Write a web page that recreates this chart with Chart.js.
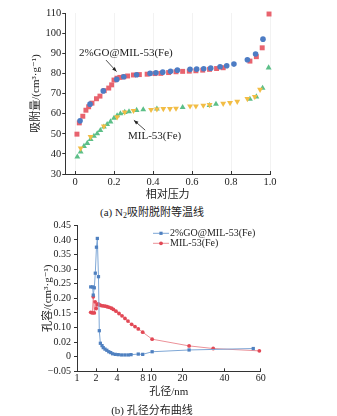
<!DOCTYPE html>
<html>
<head>
<meta charset="utf-8">
<script src="https://cdn.jsdelivr.net/npm/chart.js@4.4.1/dist/chart.umd.min.js"></script>
<style>
	body { margin: 0; background: #fff; }
	#page { position: relative; width: 337px; height: 416px; overflow: hidden; font-family: "Liberation Serif", "Noto Sans CJK SC", serif; color: #222; }
	.box { position: absolute; left: 0; width: 337px; }
	.caption { position: absolute; left: 0; width: 304px; text-align: center; font-size: 11px; line-height: 14px; }
	.caption span { font-size: 8px; line-height: 0; vertical-align: -2px; }
</style>
</head>
<body>
<div id="page">
	<div class="box" style="top:0;height:205px"><canvas id="chart-isotherm"></canvas></div>
	<div class="caption" style="top:205px">(a) N<span>2</span>吸附脱附等温线</div>
	<div class="box" style="top:216px;height:200px"><canvas id="chart-pore"></canvas></div>
	<div class="caption" style="top:403px">(b) 孔径分布曲线</div>
</div>
<script>
var goName = "2%GO@MIL-53(Fe)";
var milName = "MIL-53(Fe)";

// N2 isotherms, relative pressure vs adsorbed volume
var goAdsP = [0.01, 0.022, 0.04, 0.056, 0.07, 0.087, 0.11, 0.128, 0.15, 0.173, 0.188, 0.2, 0.215, 0.23, 0.25, 0.27, 0.3, 0.33, 0.37, 0.41, 0.44, 0.48, 0.518, 0.552, 0.586, 0.62, 0.655, 0.69, 0.726, 0.76, 0.897, 0.93, 0.96, 0.995];
var goAdsV = [49.8, 55.4, 58.7, 61.7, 63.4, 65.2, 67.4, 68.7, 71.4, 72.7, 74.3, 76.7, 77.6, 78.0, 78.3, 78.7, 79.2, 79.4, 79.6, 79.9, 80.0, 80.4, 80.8, 81.0, 81.1, 81.3, 81.6, 82.0, 82.4, 82.8, 86.1, 88.3, 92.7, 109.5];
var goDesP = [0.026, 0.077, 0.145, 0.214, 0.25, 0.316, 0.385, 0.415, 0.45, 0.49, 0.525, 0.59, 0.624, 0.66, 0.696, 0.744, 0.778, 0.815, 0.884, 0.926, 0.964];
var goDesV = [56.4, 64.7, 71.3, 77.0, 78.3, 79.3, 80.0, 80.3, 80.6, 81.0, 81.6, 82.0, 82.1, 82.3, 82.6, 83.3, 83.8, 84.6, 86.8, 89.6, 97.0];
var milAdsP = [0.012, 0.029, 0.046, 0.063, 0.08, 0.097, 0.114, 0.13, 0.148, 0.165, 0.182, 0.2, 0.216, 0.233, 0.255, 0.277, 0.316, 0.35, 0.42, 0.552, 0.69, 0.723, 0.897, 0.93, 0.962, 0.993];
var milAdsV = [38.5, 41.0, 43.8, 45.3, 47.2, 48.8, 50.1, 51.7, 53.4, 54.7, 56.0, 57.8, 59.0, 60.0, 60.7, 61.0, 61.7, 62.0, 62.4, 63.1, 64.1, 64.7, 67.2, 68.4, 72.7, 82.8];
var milDesP = [0.029, 0.08, 0.148, 0.216, 0.255, 0.3, 0.39, 0.42, 0.453, 0.487, 0.518, 0.59, 0.62, 0.658, 0.69, 0.76, 0.795, 0.832, 0.884, 0.922, 0.949];
var milDesV = [42.8, 48.5, 53.7, 58.3, 60.7, 61.5, 62.0, 62.2, 62.4, 62.4, 62.6, 63.7, 63.7, 64.1, 64.4, 65.0, 65.4, 66.0, 67.4, 68.4, 72.0];
var isoTicksX = [0, 0.2, 0.4, 0.6, 0.8, 1.0];
var isoTickLabelsX = ["0", "0.2", "0.4", "0.6", "0.8", "1.0"];

// pore size distribution, pore diameter (nm) vs pore volume
var goPoreD = [1.65, 1.77, 1.81, 1.88, 1.95, 2.03, 2.09, 2.17, 2.23, 2.31, 2.44, 2.54, 2.69, 2.86, 3.05, 3.25, 3.46, 3.78, 4.14, 4.54, 4.96, 5.42, 5.84, 7.1, 8, 10.1, 22.3, 55.2];
var goPoreV = [0.239, 0.239, 0.211, 0.236, 0.286, 0.375, 0.405, 0.274, 0.089, 0.046, 0.038, 0.031, 0.026, 0.022, 0.017, 0.014, 0.010, 0.008, 0.007, 0.006, 0.006, 0.006, 0.007, 0.009, 0.008, 0.017, 0.023, 0.028];
var milPoreD = [1.65, 1.75, 1.81, 1.88, 1.94, 2.01, 2.09, 2.16, 2.26, 2.38, 2.54, 2.72, 2.9, 3.1, 3.34, 3.56, 3.87, 4.22, 4.58, 4.96, 5.38, 5.94, 6.5, 7.1, 8, 10.1, 22.3, 33.2, 59.1];
var milPoreV = [0.152, 0.150, 0.205, 0.150, 0.188, 0.165, 0.178, 0.181, 0.177, 0.175, 0.174, 0.173, 0.171, 0.169, 0.166, 0.162, 0.156, 0.148, 0.140, 0.131, 0.122, 0.111, 0.103, 0.095, 0.084, 0.060, 0.037, 0.028, 0.020];
var poreTicks = [1, 2, 4, 8, 10, 20, 40, 60];
var volTicks = [-0.05, 0, 0.05, 0.10, 0.15, 0.20, 0.25, 0.30, 0.35, 0.40, 0.45];
var volTickLabels = ["\u22120.05", "0", "0.02", "0.10", "0.15", "0.20", "0.25", "0.30", "0.35", "0.40", "0.45"];

// the pore axis is stretched unevenly between its labelled sizes
var poreAxisStops = [0, 19, 40, 65.7, 74.7, 105.5, 147.5, 183.7];

var serif = "'Liberation Serif', 'DejaVu Serif', 'Noto Sans CJK SC', serif";
Chart.defaults.font.family = serif;
Chart.defaults.color = "#222";

function poreAxis(d)
{
	for (var i = 0; i < poreTicks.length - 1; i++)
	{
		if (d <= poreTicks[i + 1] || i == poreTicks.length - 2)
		{
			var t = Math.log(d / poreTicks[i]) / Math.log(poreTicks[i + 1] / poreTicks[i]);
			return poreAxisStops[i] + t * (poreAxisStops[i + 1] - poreAxisStops[i]);
		}
	}
}

function toPoints(xs, ys, mapX)
{
	return xs.map(function(x, i)
	{
		return { x: mapX ? mapX(x) : x, y: ys[i] };
	});
}

function drawArrow(ctx, x1, y1, x2, y2)
{
	var a = Math.atan2(y2 - y1, x2 - x1);
	ctx.beginPath();
	ctx.moveTo(x1, y1);
	ctx.lineTo(x2, y2);
	ctx.stroke();
	ctx.beginPath();
	ctx.moveTo(x2, y2);
	ctx.lineTo(x2 - 4.5 * Math.cos(a) + 1.8 * Math.sin(a), y2 - 4.5 * Math.sin(a) - 1.8 * Math.cos(a));
	ctx.lineTo(x2 - 4.5 * Math.cos(a) - 1.8 * Math.sin(a), y2 - 4.5 * Math.sin(a) + 1.8 * Math.cos(a));
	ctx.closePath();
	ctx.fill();
}

// sample names with pointer arrows on the isotherm plot
var isothermNotes = {
	id: "isothermNotes",
	afterDatasetsDraw: function(chart)
	{
		var sx = chart.scales.x, sy = chart.scales.y, ctx = chart.ctx;
		ctx.save();
		ctx.font = "11px " + serif;
		ctx.fillStyle = "#222";
		ctx.strokeStyle = "#222";
		ctx.lineWidth = 0.8;
		ctx.textBaseline = "middle";
		ctx.fillText(goName, sx.getPixelForValue(0.02), sy.getPixelForValue(90.1));
		ctx.fillText(milName, sx.getPixelForValue(0.272), sy.getPixelForValue(48.8));
		drawArrow(ctx, sx.getPixelForValue(0.159), sy.getPixelForValue(86.6), sx.getPixelForValue(0.213), sy.getPixelForValue(80.9));
		drawArrow(ctx, sx.getPixelForValue(0.36), sy.getPixelForValue(51.8), sx.getPixelForValue(0.302), sy.getPixelForValue(56.7));
		ctx.restore();
	}
};

// line + marker legend in the top right of the pore plot
var poreLegend = {
	id: "poreLegend",
	afterDraw: function(chart)
	{
		var ctx = chart.ctx, area = chart.chartArea;
		ctx.save();
		ctx.font = "10px " + serif;
		ctx.textBaseline = "middle";
		chart.data.datasets.forEach(function(ds, i)
		{
			var x = area.left + 76, y = area.top + 8 + i * 10;
			ctx.strokeStyle = ds.borderColor;
			ctx.lineWidth = 1;
			ctx.beginPath();
			ctx.moveTo(x, y);
			ctx.lineTo(x + 16, y);
			ctx.stroke();
			ctx.fillStyle = ds.pointBackgroundColor;
			ctx.beginPath();
			if (ds.pointStyle == "rect")
			{
				ctx.rect(x + 8 - 1.6, y - 1.6, 3.2, 3.2);
			}
			else
			{
				ctx.arc(x + 8, y, 1.9, 0, Math.PI * 2);
			}
			ctx.fill();
			ctx.fillStyle = "#222";
			ctx.fillText(ds.label, x + 17, y);
		});
		ctx.restore();
	}
};

function fixWidth(w)
{
	return function(scale) { scale.width = w; };
}

function fixHeight(h)
{
	return function(scale) { scale.height = h; };
}

new Chart("chart-isotherm", {
	type: "scatter",
	data: {
		datasets: [
			{ label: goName + " desorption", data: toPoints(goDesP, goDesV), pointStyle: "circle", pointRadius: 2.8, backgroundColor: "#4d7cc4", borderWidth: 0 },
			{ label: goName + " adsorption", data: toPoints(goAdsP, goAdsV), pointStyle: "rect", pointRadius: 3.5, backgroundColor: "#e8636e", borderWidth: 0 },
			{ label: milName + " desorption", data: toPoints(milDesP, milDesV), pointStyle: "triangle", rotation: 180, pointRadius: 3.4, backgroundColor: "#f2bd45", borderWidth: 0 },
			{ label: milName + " adsorption", data: toPoints(milAdsP, milAdsV), pointStyle: "triangle", pointRadius: 3.4, backgroundColor: "#5cbf88", borderWidth: 0 }
		]
	},
	options: {
		responsive: true,
		maintainAspectRatio: false,
		animation: false,
		clip: false,
		layout: { padding: { left: 30, top: 13, right: 67, bottom: 3.4 } },
		plugins: { legend: { display: false }, tooltip: { enabled: false } },
		scales: {
			x: {
				type: "linear",
				min: -0.05,
				max: 1.0,
				afterBuildTicks: function(scale) { scale.ticks = isoTicksX.map(function(v) { return { value: v }; }); },
				afterFit: fixHeight(27.6),
				ticks: { font: { size: 10.5 }, padding: 5, maxRotation: 0, autoSkip: false, callback: function(v, i) { return isoTickLabelsX[i]; } },
				grid: { color: "rgba(0,0,0,0.05)", tickColor: "#333", tickLength: -3 },
				border: { color: "#333" },
				title: { display: true, text: "相对压力", font: { size: 11 }, padding: 0 }
			},
			y: {
				min: 30,
				max: 110,
				afterFit: fixWidth(35.25),
				ticks: { font: { size: 10.5 }, padding: 1, stepSize: 10, autoSkip: false },
				grid: { drawOnChartArea: false, tickColor: "#333", tickLength: 3 },
				border: { color: "#333" },
				title: { display: true, text: "吸附量/(cm³·g⁻¹)", font: { size: 11 }, padding: 0 }
			}
		}
	},
	plugins: [isothermNotes]
});

new Chart("chart-pore", {
	type: "scatter",
	data: {
		datasets: [
			{ label: goName, data: toPoints(goPoreD, goPoreV, poreAxis), showLine: true, borderColor: "#7ea7d6", borderWidth: 1, pointStyle: "rect", pointRadius: 2.3, pointBackgroundColor: "#4f80c0", pointBorderWidth: 0 },
			{ label: milName, data: toPoints(milPoreD, milPoreV, poreAxis), showLine: true, borderColor: "#ec9198", borderWidth: 1, pointStyle: "circle", pointRadius: 1.9, pointBackgroundColor: "#e24855", pointBorderWidth: 0 }
		]
	},
	options: {
		responsive: true,
		maintainAspectRatio: false,
		animation: false,
		clip: false,
		layout: { padding: { left: 41.4, top: 9.3, right: 76.3, bottom: 17.4 } },
		plugins: { legend: { display: false }, tooltip: { enabled: false } },
		scales: {
			x: {
				type: "linear",
				min: 0,
				max: poreAxis(60),
				afterBuildTicks: function(scale) { scale.ticks = poreTicks.map(function(d) { return { value: poreAxis(d) }; }); },
				afterFit: fixHeight(27.3),
				ticks: { font: { size: 10 }, padding: 4, maxRotation: 0, autoSkip: false, callback: function(v, i) { return poreTicks[i]; } },
				grid: { drawOnChartArea: false, tickColor: "#333", tickLength: -3 },
				border: { color: "#333" },
				title: { display: true, text: "孔径/nm", font: { size: 11 }, padding: 0 }
			},
			y: {
				min: -0.05,
				max: 0.45,
				afterBuildTicks: function(scale) { scale.ticks = volTicks.map(function(v) { return { value: v }; }); },
				afterFit: fixWidth(35.6),
				ticks: { font: { size: 10 }, padding: 3, autoSkip: false, callback: function(v, i) { return volTickLabels[i]; } },
				grid: { drawOnChartArea: false, tickColor: "#333", tickLength: 3 },
				border: { color: "#333" },
				title: { display: true, text: "孔容/(cm³·g⁻¹)", font: { size: 11 }, padding: 0 }
			}
		}
	},
	plugins: [poreLegend]
});
</script>
</body>
</html>
